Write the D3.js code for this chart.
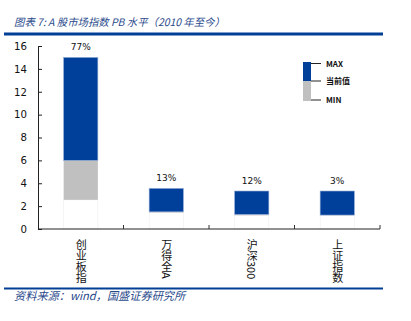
<!DOCTYPE html>
<html>
<head>
<meta charset="utf-8">
<script src="https://cdn.jsdelivr.net/npm/d3@7"></script>
<style>
  body { margin: 0; background: #fff; }
  svg { display: block; }
</style>
</head>
<body>
<svg id="chart"></svg>
<script>
// 数据
const categories = ["创业板指", "万得全A", "沪深300", "上证指数"];
const minValues = [2.55, 1.45, 1.2, 1.2];
const curValues = [6.0, 1.5, 1.28, 1.22];
const maxValues = [15.0, 3.55, 3.32, 3.32];
const pctLabels = ["77%", "13%", "12%", "3%"];
const yTicks = [0, 2, 4, 6, 8, 10, 12, 14, 16];
const legendItems = ["MAX", "当前值", "MIN"];

const width = 411, height = 321;
const blue = "#00409a", gray = "#c0c0c0", textBlue = "#2a4a8c";

const svg = d3.select("#chart")
    .attr("width", width)
    .attr("height", height);

// 标题
svg.append("text")
    .attr("x", 14)
    .attr("y", 26)
    .attr("font-family", "Noto Sans CJK SC, sans-serif")
    .attr("font-size", 10.4)
    .attr("font-style", "italic")
    .attr("fill", textBlue)
    .text("图表 7:  A 股市场指数 PB 水平（2010 年至今）");

svg.append("line")
    .attr("x1", 4).attr("x2", 383)
    .attr("y1", 34).attr("y2", 34)
    .attr("stroke", "#003f95")
    .attr("stroke-width", 3);

// 比例尺
const x = d3.scaleBand()
    .domain(categories)
    .range([38, 380]);
const y = d3.scaleLinear()
    .domain([0, 16])
    .range([229, 46]);

const barW = x.bandwidth() * 0.4;
const cx = d => x(d) + x.bandwidth() / 2;

// 坐标轴
const axisY = d3.axisLeft(y).tickValues(yTicks).tickSizeInner(-4).tickSizeOuter(0).tickPadding(11);
const gy = svg.append("g")
    .attr("transform", "translate(38,0)")
    .call(axisY);
gy.selectAll("text")
    .attr("font-family", "DejaVu Sans, Verdana, sans-serif")
    .attr("font-size", 10.2)
    .attr("fill", "#111");
gy.selectAll("line, path").attr("stroke", "#222");

// 柱子：0~min 白色，min~当前 灰色，当前~max 蓝色
const rows = categories.map((c, i) => ({
    cat: c, min: minValues[i], cur: curValues[i], max: maxValues[i], pct: pctLabels[i]
}));

svg.selectAll(".base")
    .data(rows).enter()
    .append("rect")
    .attr("x", d => cx(d.cat) - barW / 2)
    .attr("width", barW)
    .attr("y", d => y(d.min))
    .attr("height", d => y(0) - y(d.min))
    .attr("fill", "#fff")
    .attr("stroke", "#eeeeee")
    .attr("stroke-width", 0.6);

svg.selectAll(".low")
    .data(rows).enter()
    .append("rect")
    .attr("x", d => cx(d.cat) - barW / 2)
    .attr("width", barW)
    .attr("y", d => y(d.cur))
    .attr("height", d => y(d.min) - y(d.cur))
    .attr("fill", gray);

svg.selectAll(".high")
    .data(rows).enter()
    .append("rect")
    .attr("x", d => cx(d.cat) - barW / 2)
    .attr("width", barW)
    .attr("y", d => y(d.max))
    .attr("height", d => y(d.cur) - y(d.max))
    .attr("fill", blue)
    .attr("stroke", "#8fa8d4")
    .attr("stroke-width", 0.6);

svg.selectAll(".pct")
    .data(rows).enter()
    .append("text")
    .attr("x", d => cx(d.cat))
    .attr("y", d => y(d.max) - 7)
    .attr("text-anchor", "middle")
    .attr("font-family", "DejaVu Sans, Verdana, sans-serif")
    .attr("font-size", 9)
    .attr("fill", "#111")
    .text(d => d.pct);

// X 轴
svg.append("line")
    .attr("x1", 38).attr("x2", 380)
    .attr("y1", 229).attr("y2", 229)
    .attr("stroke", "#222");
svg.selectAll(".xtick")
    .data(categories).enter()
    .append("line")
    .attr("x1", d => x(d) + x.bandwidth()).attr("x2", d => x(d) + x.bandwidth())
    .attr("y1", 229).attr("y2", 225)
    .attr("stroke", "#333");

svg.selectAll(".xlabel")
    .data(categories).enter()
    .append("text")
    .attr("x", d => cx(d) + 0.5)
    .attr("y", 239)
    .attr("font-family", "Noto Sans CJK SC, sans-serif")
    .attr("font-size", 11)
    .attr("fill", "#111")
    .style("writing-mode", "vertical-rl")
    .text(d => d);

// 图例
const lg = svg.append("g");
lg.append("rect").attr("x", 303).attr("y", 62).attr("width", 8).attr("height", 19).attr("fill", blue);
lg.append("rect").attr("x", 303).attr("y", 81).attr("width", 8).attr("height", 20).attr("fill", gray);
const legY = [63.5, 81, 100];
lg.selectAll("line")
    .data(legendItems).enter()
    .append("line")
    .attr("x1", 311).attr("x2", 321)
    .attr("y1", (d, i) => legY[i]).attr("y2", (d, i) => legY[i])
    .attr("stroke", "#222");
lg.selectAll("text")
    .data(legendItems).enter()
    .append("text")
    .attr("x", 326)
    .attr("y", (d, i) => legY[i] + 3)
    .attr("font-family", "Noto Sans CJK SC, sans-serif")
    .attr("font-size", 8)
    .attr("font-weight", "bold")
    .attr("fill", "#111")
    .text(d => d);

// 底部
svg.append("line")
    .attr("x1", 4).attr("x2", 383)
    .attr("y1", 288.5).attr("y2", 288.5)
    .attr("stroke", "#003f95")
    .attr("stroke-width", 2);
svg.append("text")
    .attr("x", 14)
    .attr("y", 300)
    .attr("font-family", "Noto Sans CJK SC, sans-serif")
    .attr("font-size", 11.2)
    .attr("font-style", "italic")
    .attr("fill", textBlue)
    .text("资料来源：wind，国盛证券研究所");
</script>
</body>
</html>
